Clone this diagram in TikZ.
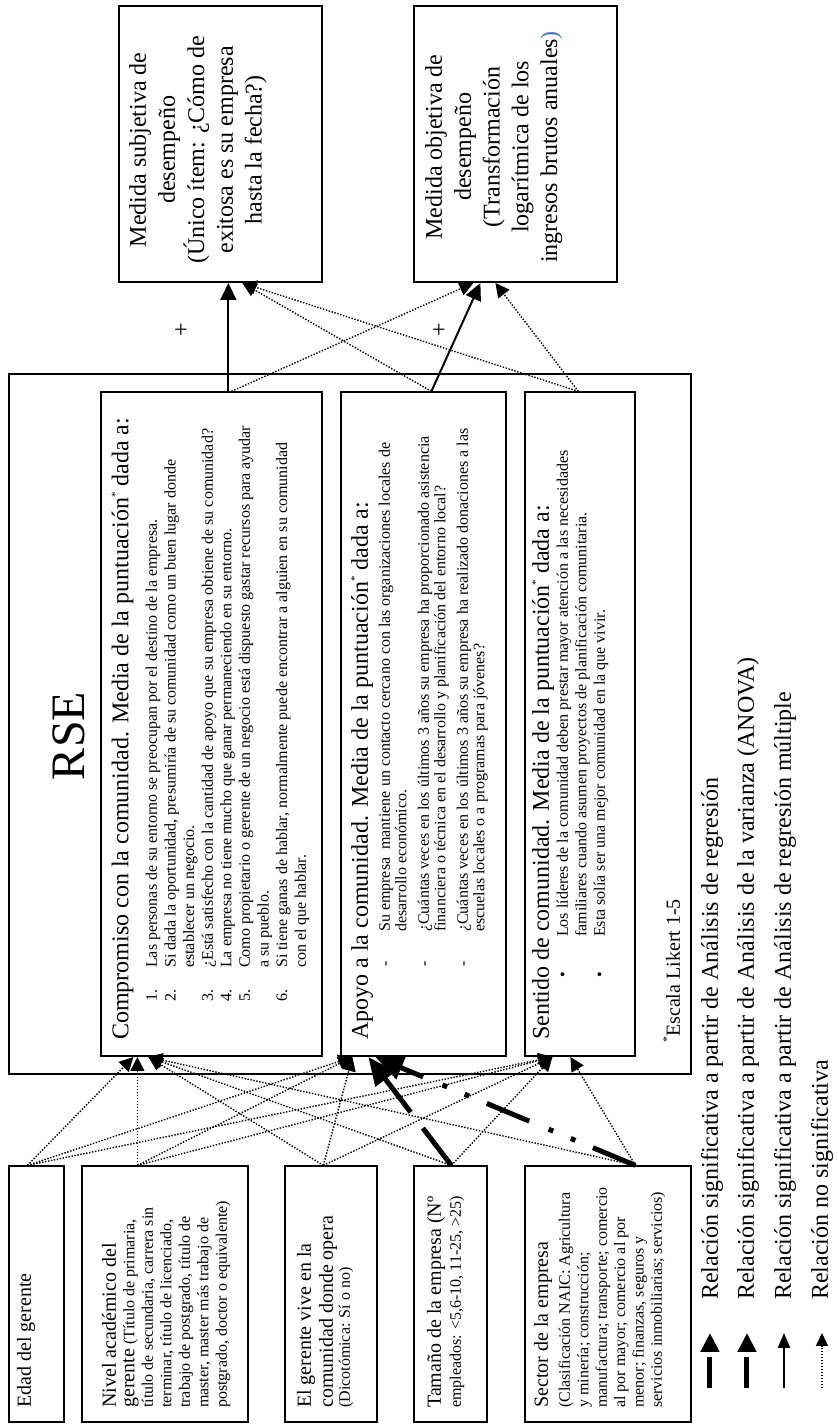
\documentclass[tikz,border=0pt]{standalone}
\usepackage{fontspec}
\setmainfont{Liberation Serif}
\usetikzlibrary{arrows.meta,calc}
\definecolor{linkblue}{RGB}{68,114,196}
\newcommand{\likert}{\raisebox{0.4em}{\fontsize{11}{11}\selectfont *}}
\newcommand{\mtxt}[1]{{\fontsize{20}{20}\selectfont #1}}

\begin{document}
\begin{tikzpicture}[
    x=1pt, y=1pt, rotate=90, transform shape,
    box/.style={rectangle, draw, line width=1.6pt, inner sep=0pt, anchor=south west},
    txt/.style={inner sep=0pt, anchor=base west},
    big/.style={font=\fontsize{24}{28.8}\selectfont},
    mid/.style={font=\fontsize{20}{22}\selectfont},
    sml/.style={font=\fontsize{16}{18.5}\selectfont},
    nsig/.style={line width=1.4pt, dash pattern=on 1.4pt off 1.6pt, -{Triangle[length=14pt,width=14pt]}},
    sig/.style={line width=2pt, -{Triangle[length=17pt,width=16pt]}},
    reg/.style={line width=5pt, dash pattern=on 47pt off 20pt, -{Triangle[length=28pt,width=24pt]}},
    anova/.style={line width=5pt, dash pattern=on 46pt off 19pt on 5pt off 19pt on 5pt off 21pt, -{Triangle[length=28pt,width=24pt]}},
    legthick/.style={line width=5pt, dash pattern=on 31pt off 10pt, -{Triangle[length=19pt,width=18pt]}}
]
\useasboundingbox (0,0) rectangle (1425,838);

% boxes
\node[box, minimum width=276pt, minimum height=203pt] (subj) at (1142,515) {};
\node[box, minimum width=276pt, minimum height=203pt] (obj) at (1142,220) {};
\node[box, minimum width=700pt, minimum height=682pt] (rse) at (350,146) {};
\node[box, minimum width=664pt, minimum height=221pt] (comp) at (368,515) {};
\node[box, minimum width=664pt, minimum height=165pt] (apoyo) at (368,331) {};
\node[box, minimum width=664pt, minimum height=110pt] (sentido) at (368,202) {};
\node[box, minimum width=256pt, minimum height=55pt] (edad) at (2,773) {};
\node[box, minimum width=256pt, minimum height=166pt] (nivel) at (2,589) {};
\node[box, minimum width=256pt, minimum height=92pt] (vive) at (2,460) {};
\node[box, minimum width=256pt, minimum height=73pt] (tamano) at (2,350) {};
\node[box, minimum width=256pt, minimum height=166pt] (sector) at (2,146) {};

% outcome texts
\node[txt, big, anchor=base] (subjtxt) at (1275,692) {\begin{tabular}[t]{@{}c@{}}Medida subjetiva de\\desempeño\\(Único ítem: ¿Cómo de\\exitosa es su empresa\\hasta la fecha?)\end{tabular}};
\node[txt, big, anchor=base] (objtxt) at (1278,396) {\begin{tabular}[t]{@{}c@{}}Medida objetiva de\\desempeño\\(Transformación\\logarítmica de los\\ingresos brutos anuales\textcolor{linkblue}{)}\end{tabular}};

% RSE
\node[txt, font=\fontsize{48}{48}\selectfont, anchor=base] (rsetxt) at (689,753) {RSE};
\node[txt, big] (comphead) at (385,709.5) {Compromiso con la comunidad. Media de la puntuación\likert{} dada a:};
\node[txt, font=\fontsize{16}{18.6}\selectfont] (compitems) at (423,681) {\begin{tabular}[t]{@{}p{34pt}@{}l@{}}
1. & Las personas de su entorno se preocupan por el destino de la empresa.\\
2. & Si dada la oportunidad, presumiría de su comunidad como un buen lugar donde\\
   & establecer un negocio.\\
3. & ¿Está satisfecho con la cantidad de apoyo que su empresa obtiene de su comunidad?\\
4. & La empresa no tiene mucho que ganar permaneciendo en su entorno.\\
5. & Como propietario o gerente de un negocio está dispuesto gastar recursos para ayudar\\
   & a su pueblo.\\
6. & Si tiene ganas de hablar, normalmente puede encontrar a alguien en su comunidad\\
   & con el que hablar.
\end{tabular}};
\node[txt, big] (apoyohead) at (385,470) {Apoyo a la comunidad. Media de la puntuación\likert{} dada a:};
\node[txt, font=\fontsize{16}{16.5}\selectfont] (apoyoitems) at (458,448) {\begin{tabular}[t]{@{}p{35pt}@{}l@{}}
- & Su empresa\ \ mantiene un contacto cercano con las organizaciones locales de\\
  & desarrollo económico.\\[6pt]
- & ¿Cuántas veces en los últimos 3 años su empresa ha proporcionado asistencia\\
  & financiera o técnica en el desarrollo y planificación del entorno local?\\[6pt]
- & ¿Cuántas veces en los últimos 3 años su empresa ha realizado donaciones a las\\
  & escuelas locales o a programas para jóvenes?
\end{tabular}};
\node[txt, big] (senthead) at (385,289) {Sentido de comunidad. Media de la puntuación\likert{} dada a:};
\node[txt, sml] (sentitems) at (447,270) {\begin{tabular}[t]{@{}p{41pt}@{}l@{}}
\textbullet & Los líderes de la comunidad deben prestar mayor atención a las necesidades\\
            & familiares cuando asumen proyectos de planificación comunitaria.\\
\textbullet & Esta solía ser una mejor comunidad en la que vivir.
\end{tabular}};
\node[txt, mid] (escala) at (382,158) {\raisebox{0.45em}{\fontsize{12}{12}\selectfont *}Escala Likert 1-5};

% predictor texts
\node[txt, mid] (edadtxt) at (17,807) {Edad del gerente};
\node[txt, sml] (niveltxt) at (17,722) {\begin{tabular}[t]{@{}l@{}}
\mtxt{Nivel académico del}\\
\mtxt{gerente} (Título de primaria,\\
título de secundaria, carrera sin\\
terminar, título de licenciado,\\
trabajo de postgrado, título de\\
master, master más trabajo de\\
postgrado, doctor o equivalente)
\end{tabular}};
\node[txt, mid] (vivetxt) at (17,527) {\begin{tabular}[t]{@{}l@{}}
El gerente vive en la\\
comunidad donde opera\\[-5pt]
{\fontsize{16}{16}\selectfont (Dicotómica: Sí o no)}
\end{tabular}};
\node[txt, font=\fontsize{16}{20}\selectfont] (tamanotxt) at (17,397) {\begin{tabular}[t]{@{}l@{}}
\mtxt{Tamaño de la empresa (Nº}\\
empleados: <5,6-10, 11-25, >25)
\end{tabular}};
\node[txt, font=\fontsize{16}{18.4}\selectfont] (sectortxt) at (17,290) {\begin{tabular}[t]{@{}l@{}}
\mtxt{Sector de la empresa}\\[3.6pt]
(Clasificación NAIC: Agricultura\\
y minería; construcción;\\
manufactura; transporte; comercio\\
al por mayor; comercio al por\\
menor; finanzas, seguros y\\
servicios inmobiliarias; servicios)
\end{tabular}};

% RSE -> desempeno
\draw[sig] ($(comp.north east)!128pt!(comp.south east)$) -- ($(subj.north west)!110pt!(subj.south west)$);
\draw[sig] ($(apoyo.north east)!91pt!(apoyo.south east)$) -- ($(obj.north west)!67pt!(obj.south west)$);
\draw[nsig] ($(comp.north east)!131pt!(comp.south east)$) -- ($(obj.north west)!60pt!(obj.south west)$);
\draw[nsig] ($(apoyo.north east)!91pt!(apoyo.south east)$) -- ($(subj.north west)!124pt!(subj.south west)$);
\draw[nsig] ($(sentido.north east)!54pt!(sentido.south east)$) -- ($(subj.north west)!124pt!(subj.south west)$);
\draw[nsig] ($(sentido.north east)!54pt!(sentido.south east)$) -- ($(obj.north west)!82pt!(obj.south west)$);
\node[big] (plus1) at (1095,656) {+};
\node[big] (plus2) at (1095,398) {+};

% predictores -> RSE
\draw[nsig] ($(edad.north east)!19pt!(edad.south east)$) -- ($(comp.north west)!33pt!(comp.south west)$);
\draw[nsig] ($(edad.north east)!19pt!(edad.south east)$) -- ($(apoyo.north west)!12pt!(apoyo.south west)$);
\draw[nsig] ($(edad.north east)!19pt!(edad.south east)$) -- ($(sentido.north west)!28pt!(sentido.south west)$);
\draw[nsig] ($(nivel.north east)!56pt!(nivel.south east)$) -- ($(comp.north west)!37pt!(comp.south west)$);
\draw[nsig] ($(nivel.north east)!56pt!(nivel.south east)$) -- ($(apoyo.north west)!12pt!(apoyo.south west)$);
\draw[nsig] ($(nivel.north east)!56pt!(nivel.south east)$) -- ($(sentido.north west)!28pt!(sentido.south west)$);
\draw[nsig] ($(vive.north east)!39pt!(vive.south east)$) -- ($(comp.north west)!48pt!(comp.south west)$);
\draw[nsig] ($(vive.north east)!39pt!(vive.south east)$) -- ($(apoyo.north west)!12pt!(apoyo.south west)$);
\draw[nsig] ($(vive.north east)!39pt!(vive.south east)$) -- ($(sentido.north west)!28pt!(sentido.south west)$);
\draw[nsig] ($(tamano.north east)!38pt!(tamano.south east)$) -- ($(comp.north west)!48pt!(comp.south west)$);
\draw[reg] ($(tamano.north east)!38pt!(tamano.south east)$) -- ($(apoyo.north west)!28pt!(apoyo.south west)$);
\draw[nsig] ($(tamano.north east)!38pt!(tamano.south east)$) -- ($(sentido.north west)!28pt!(sentido.south west)$);
\draw[nsig] ($(sector.north east)!111pt!(sector.south east)$) -- ($(comp.north west)!48pt!(comp.south west)$);
\draw[anova] ($(sector.north east)!111pt!(sector.south east)$) -- ($(apoyo.north west)!35pt!(apoyo.south west)$);
\draw[nsig] ($(sector.north east)!111pt!(sector.south east)$) -- ($(sentido.north west)!46pt!(sentido.south west)$);

% leyenda
\coordinate (l1s) at (37,128); \coordinate (l1e) at (92,128);
\coordinate (l2s) at (37,91);  \coordinate (l2e) at (92,91);
\coordinate (l3s) at (37,54);  \coordinate (l3e) at (92,54);
\coordinate (l4s) at (37,16);  \coordinate (l4e) at (92,16);
\draw[legthick] (l1s) -- (l1e);
\draw[legthick] (l2s) -- (l2e);
\draw[line width=2pt, -{Triangle[length=15pt,width=12pt]}] (l3s) -- (l3e);
\draw[nsig, -{Triangle[length=13pt,width=12pt]}] (l4s) -- (l4e);
\node[txt, big] (leg1) at (125,120) {Relación significativa a partir de Análisis de regresión};
\node[txt, big] (leg2) at (125,84) {Relación significativa a partir de Análisis de la varianza (ANOVA)};
\node[txt, big] (leg3) at (125,47) {Relación significativa a partir de Análisis de regresión múltiple};
\node[txt, big] (leg4) at (125,10) {Relación no significativa};
\end{tikzpicture}
\end{document}
